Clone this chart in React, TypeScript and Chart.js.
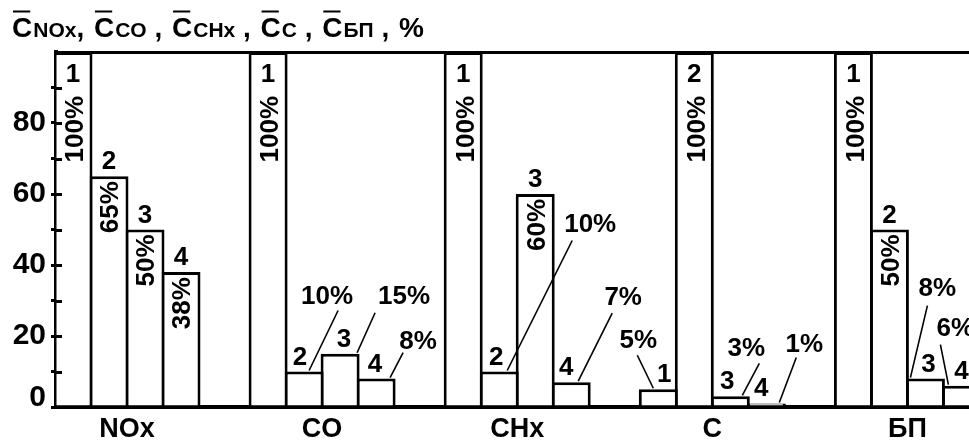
import React, { useEffect, useRef } from 'react';
import { Chart, registerables } from 'chart.js';

Chart.register(...registerables);

// ---- data ----
const GROUPS = ['NOx', 'CO', 'CHx', 'C', 'БП'];
const SERIES = ['1', '2', '3', '4'];
const SERIES_1 = [100, 100, 100, 5, 100];
const SERIES_2 = [65, 10, 10, 100, 50];
const SERIES_3 = [50, 15, 60, 3, 8];
const SERIES_4 = [38, 8, 7, 1, 6];
const Y_TICK_LABELS = [0, 20, 40, 60, 80];
const TITLE_SUBS = ['NOx', 'CO', 'CHx', 'C', 'БП'];

const SERIES_VALUES = [SERIES_1, SERIES_2, SERIES_3, SERIES_4];

// callout label placement (offsets from bar top-centre), key = series-group
const CALLOUTS: Record<string, { t: [number, number]; a: [number, number]; e: number; n: number }> = {
  '1-1': { t: [23, -77], a: [34, -61], e: 5, n: -4 },
  '2-1': { t: [64, -59], a: [35, -41], e: 17, n: 4 },
  '3-1': { t: [42, -39], a: [27, -26], e: 14, n: -1 },
  '1-2': { t: [91, -149], a: [73, -131], e: 8, n: -3 },
  '3-2': { t: [52, -86], a: [41, -69], e: 7, n: -5 },
  '0-3': { t: [-20, -51], a: [-21, -34], e: -5, n: 6 },
  '2-3': { t: [16, -50], a: [29, -33], e: 12, n: -3 },
  '3-3': { t: [38, -61], a: [30, -46], e: 13, n: -5 },
  '2-4': { t: [12, -92], a: [2, -73], e: -15, n: 3 },
  '3-4': { t: [-6, -59], a: [-21, -41], e: -13, n: 0 },
};

const FONT = '"Liberation Sans", Arial, sans-serif';

const labelPlugin = {
  id: 'barLabels',
  afterDatasetsDraw(chart: any) {
    const ctx = chart.ctx as CanvasRenderingContext2D;
    const ca = chart.chartArea;
    ctx.save();
    ctx.fillStyle = '#000';
    ctx.strokeStyle = '#000';
    // inner halves of the y-axis tick marks
    const ys = chart.scales.y;
    ctx.lineWidth = 3;
    for (let v = 10; v < 100; v += 10) {
      const py = Math.round(ys.getPixelForValue(v)) + 0.5;
      ctx.beginPath();
      ctx.moveTo(ca.left, py);
      ctx.lineTo(ca.left + 6, py);
      ctx.stroke();
    }
    const cap = 18.6;
    const drawRot = (text: string, cx: number, y: number) => {
      ctx.save();
      ctx.translate(cx, y);
      ctx.rotate(-Math.PI / 2);
      ctx.textAlign = 'right';
      ctx.textBaseline = 'alphabetic';
      ctx.fillText(text, 0, cap / 2);
      ctx.restore();
    };
    SERIES_VALUES.forEach((vals, s) => {
      const meta = chart.getDatasetMeta(s);
      vals.forEach((v, g) => {
        const el = meta.data[g] as any;
        const cx = el.x;
        const top = el.y;
        const num = SERIES[s];
        const pct = v + '%';
        ctx.font = `bold 26px ${FONT}`;
        ctx.textAlign = 'center';
        ctx.textBaseline = 'alphabetic';
        const key = `${s}-${g}`;
        const c = CALLOUTS[key];
        if (v >= 100) {
          ctx.fillText(num, cx, top + 30);
          drawRot(pct, cx + 1, top + 44);
        } else if (c) {
          ctx.fillText(num, cx + c.n, top - 7);
          ctx.fillText(pct, cx + c.t[0], top + c.t[1] + cap / 2);
          ctx.lineWidth = 1.6;
          ctx.beginPath();
          ctx.moveTo(cx + c.a[0], top + c.a[1]);
          ctx.lineTo(cx + c.e, top - 1);
          ctx.stroke();
        } else {
          ctx.fillText(num, cx, top - 7);
          drawRot(pct, cx, top + 5);
        }
      });
    });
    ctx.restore();
  },
  afterDraw(chart: any) {
    const ctx = chart.ctx as CanvasRenderingContext2D;
    ctx.save();
    ctx.fillStyle = '#000';
    ctx.textAlign = 'left';
    ctx.textBaseline = 'alphabetic';
    const base = 37;
    let x = 12;
    TITLE_SUBS.forEach((sub, i) => {
      ctx.font = `bold 28px ${FONT}`;
      const w = ctx.measureText('C').width;
      ctx.fillText('C', x, base);
      ctx.fillRect(x + 1, 10.5, w - 3, 2);
      x += w + 1;
      ctx.font = `bold 21px ${FONT}`;
      ctx.fillText(sub, x, base);
      x += ctx.measureText(sub).width;
      ctx.font = `bold 28px ${FONT}`;
      const sep = i === 0 ? ', ' : ' , ';
      ctx.fillText(sep, x, base);
      x += ctx.measureText(sep).width + 2;
    });
    ctx.font = `bold 28px ${FONT}`;
    ctx.fillText('%', x, base);
    ctx.restore();
  },
};

export default function App() {
  const ref = useRef<HTMLCanvasElement>(null);
  useEffect(() => {
    const datasets = SERIES_VALUES.map((vals, s) => ({
      label: SERIES[s],
      data: vals.map((v, g) => ({ x: g, y: v })),
      backgroundColor: '#ffffff',
      borderColor: '#000000',
      borderWidth: 3,
      borderSkipped: 'start' as const,
      categoryPercentage: 144 / 195.1,
      barPercentage: 39 / 36,
    }));
    const chart = new Chart(ref.current!, {
      type: 'bar',
      data: { datasets },
      plugins: [labelPlugin],
      options: {
        animation: false,
        responsive: false,
        events: [],
        layout: { padding: { top: 52, left: 0, right: 0, bottom: 0 } },
        plugins: { legend: { display: false }, tooltip: { enabled: false }, title: { display: false } },
        scales: {
          x: {
            type: 'linear',
            offset: false,
            min: -0.3639,
            max: 4.3157,
            afterBuildTicks: (scale: any) => {
              scale.ticks = GROUPS.map((_, i) => ({ value: i }));
            },
            afterFit: (scale: any) => {
              scale.height = 37;
            },
            ticks: {
              autoSkip: false,
              maxRotation: 0,
              padding: 6,
              color: '#000',
              font: { family: FONT, size: 27, weight: 'bold' },
              callback: (v: any) => GROUPS[v as number] ?? '',
            },
            grid: { display: true, offset: false, drawOnChartArea: false, drawTicks: false },
            border: { display: true, color: '#000', width: 4 },
          },
          y: {
            min: 0,
            max: 100,
            afterFit: (scale: any) => {
              scale.width = 56;
            },
            ticks: {
              stepSize: 10,
              autoSkip: false,
              padding: 5,
              color: '#000',
              font: (c: any) => ({
                family: FONT,
                size: 30,
                weight: 'bold',
                lineHeight: c.tick && c.tick.value === 0 ? 0.62 : 1.2,
              }),
              callback: (v: any) => {
                const n = Number(v);
                if (!Y_TICK_LABELS.includes(n)) return '';
                return n === 0 ? ['0', ''] : String(n);
              },
            },
            grid: {
              drawOnChartArea: true,
              color: (c: any) => (c.tick && c.tick.value === 100 ? '#000' : 'rgba(0,0,0,0)'),
              lineWidth: 3,
              tickColor: (c: any) => (c.tick && c.tick.value === 100 ? 'rgba(0,0,0,0)' : '#000'),
              tickLength: 5,
              tickWidth: 3,
            },
            border: { display: true, color: '#000', width: 4 },
          },
        },
      } as any,
    });
    return () => chart.destroy();
  }, []);
  return (
    <div style={{ position: 'absolute', left: 0, top: 0, width: 969, height: 444, background: '#fff' }}>
      <canvas ref={ref} width={969} height={444} style={{ display: 'block', width: 969, height: 444 }} />
    </div>
  );
}
